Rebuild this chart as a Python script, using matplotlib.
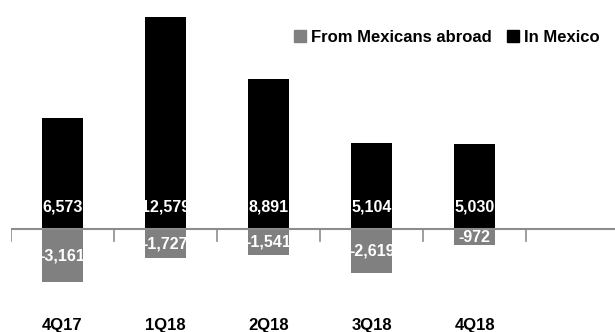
import matplotlib
matplotlib.use("Agg")
import matplotlib.pyplot as plt
from matplotlib.patches import Patch

categories = ["4Q17", "1Q18", "2Q18", "3Q18", "4Q18"]
in_mexico = [6573, 12579, 8891, 5104, 5030]
from_abroad = [-3161, -1727, -1541, -2619, -972]

fam = ["Liberation Sans Narrow", "Liberation Sans", "DejaVu Sans"]
plt.rcParams["font.family"] = fam

fig = plt.figure(figsize=(6.15, 3.32), dpi=100)
ax = fig.add_axes([11/615, 0, 604/615, 1])
x = list(range(len(categories)))
w = 0.4
ax.bar(x, in_mexico, width=w, color="#000000", label="In Mexico", zorder=2)
ax.bar(x, from_abroad, width=w, color="#808080", label="From Mexicans abroad", zorder=2)

ax.set_xlim(-0.5, 5.36)
ax.set_ylim(-6113, 13590)
for s in ["top", "right", "left", "bottom"]:
    ax.spines[s].set_visible(False)
ax.axhline(0, color="#8c8c8c", lw=1.5, zorder=3)
for b in range(len(categories) + 1):
    ax.plot([b - 0.5, b - 0.5], [0, -700], color="#8c8c8c", lw=1.2, zorder=3)
ax.set_xticks([])
ax.set_yticks([])

lab_fs = 11.5
for xi, v in zip(x, in_mexico):
    ax.text(xi, 1300, f"{v:,}", color="white", ha="center", va="center",
            fontsize=lab_fs, fontweight="bold", zorder=4)
for xi, v in zip(x, from_abroad):
    ax.text(xi, v / 2, f"{v:,}", color="white", ha="center", va="center",
            fontsize=lab_fs, fontweight="bold", zorder=4)
for xi, c in zip(x, categories):
    ax.text(xi, -5750, c, color="black", ha="center", va="center",
            fontsize=12, fontweight="bold")

handles = [Patch(color="#808080", label="From Mexicans abroad"),
           Patch(color="#000000", label="In Mexico")]
fig.legend(handles=handles, loc="center right", bbox_to_anchor=(600/615, 1 - 37/332),
           ncol=2, frameon=False, prop={"weight": "bold", "size": 12},
           handlelength=0.75, handleheight=0.75, handletextpad=0.3, columnspacing=0.9,
           borderaxespad=0.0, borderpad=0.0)

fig.savefig("out.png", dpi=100)
